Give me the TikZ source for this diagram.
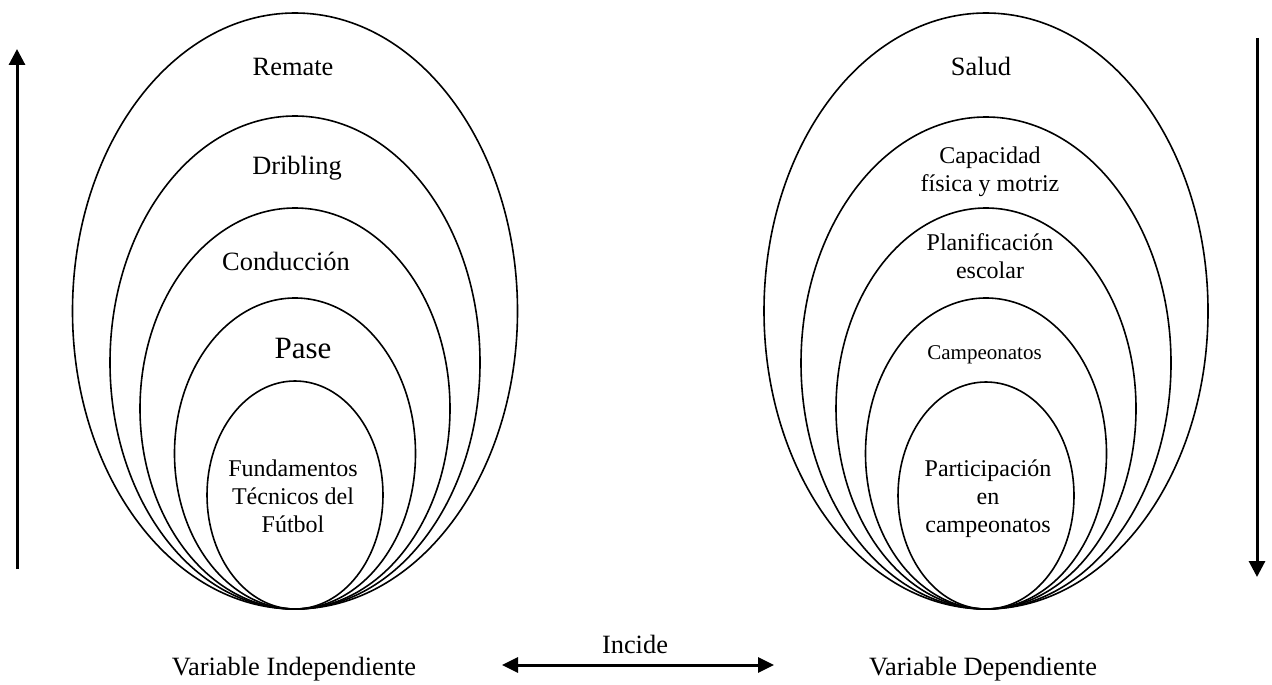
\documentclass[tikz,border=0pt]{standalone}
\usepackage{fontspec}
\setmainfont{Liberation Serif}
\usetikzlibrary{positioning,arrows.meta}

\tikzset{
  ring/.style={line width=0.8bp},
  lbl/.style={anchor=base,font=\fontsize{13.2bp}{15.8bp}\selectfont},
  sublbl/.style={anchor=base,align=center,font=\fontsize{12bp}{14bp}\selectfont},
  flecha/.style={line width=1.5bp,-{Triangle[length=8bp,width=8bp]}}
}

\begin{document}
\begin{tikzpicture}[x=0.5bp,y=-0.5bp]
\useasboundingbox (0,0) rectangle (1272,684);
\coordinate (IB) at (295,609);
\coordinate (DB) at (986,609);

% independiente
\foreach \rx/\ry in {222.5/298,185/246.5,155/200.5,120.5/155.5,88/114}
  \draw[ring] (IB) ++(0,-\ry) ellipse [x radius=\rx, y radius=\ry];
% dependiente
\foreach \rx/\ry in {222/298,185/246,150/200.5,120.5/155.5,88/113.5}
  \draw[ring] (DB) ++(0,-\ry) ellipse [x radius=\rx, y radius=\ry];

\node[lbl] (remate) at (293,76) {Remate};
\node[lbl] (dribling) at (297,174) {Dribling};
\node[lbl] (conduccion) at (286,270) {Conducción};
\node[lbl,font=\fontsize{15.5bp}{18bp}\selectfont] (pase) at (303,358) {Pase};
\node[sublbl] (fundamentos) at (293,532) {Fundamentos\\Técnicos del\\Fútbol};

\node[lbl] (salud) at (981,76) {Salud};
\node[sublbl] (capacidad) at (990,191) {Capacidad\\física y motriz};
\node[sublbl] (planificacion) at (990,278) {Planificación\\escolar};
\node[lbl,font=\fontsize{10.5bp}{12.6bp}\selectfont] (campeonatos) at (984.5,359) {Campeonatos};
\node[sublbl] (participacion) at (988,532) {Participación\\en\\campeonatos};

\node[lbl] (vi) at (294,675) {Variable Independiente};
\node[lbl] (vd) at (983,675) {Variable Dependiente};
\node[lbl] (incide) at (635,653) {Incide};

\coordinate (A) at (17,569);
\coordinate (B) at (17,49);
\coordinate (C) at (1257,38);
\coordinate (D) at (1257,577);
\coordinate (E) at (502,665);
\coordinate (F) at (774,665);
\draw[flecha] (A) -- (B);
\draw[flecha] (C) -- (D);
\draw[flecha,{Triangle[length=8bp,width=7.5bp]}-{Triangle[length=8bp,width=7.5bp]}] (E) -- (F);

\end{tikzpicture}
\end{document}
